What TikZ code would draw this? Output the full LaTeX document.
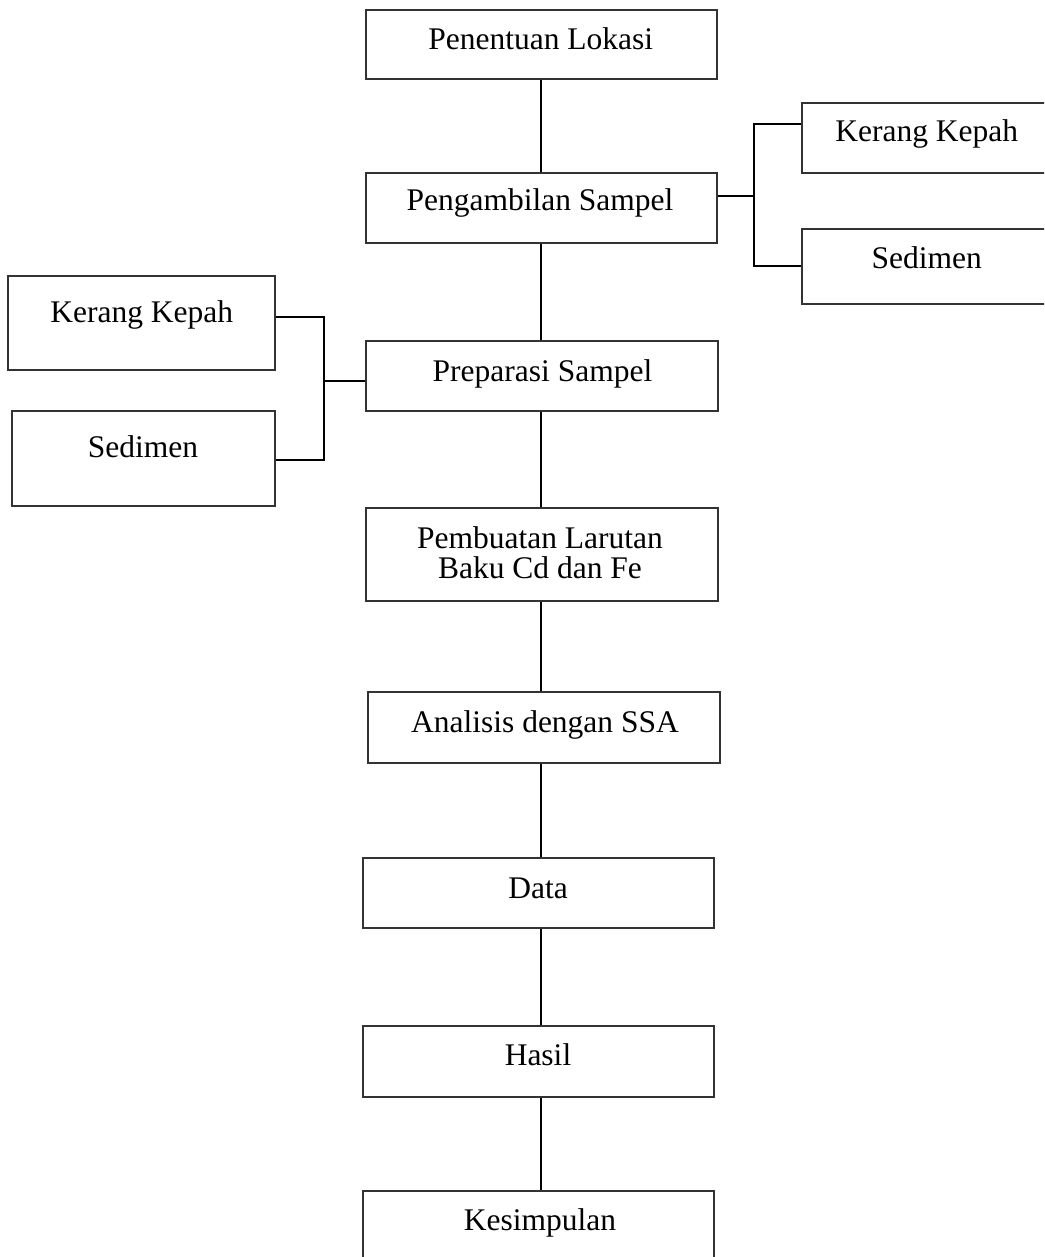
\documentclass[tikz,border=0pt]{standalone}
\usepackage{fontspec}
\setmainfont{Liberation Serif}
\begin{document}
\begin{tikzpicture}[x=1pt,y=-1pt,
  box/.style={draw=black!80,line width=1.4pt,rectangle,inner sep=0pt},
  lbl/.style={inner sep=0pt,anchor=base,font=\fontsize{31.5}{30}\selectfont},
  conn/.style={draw=black,line width=2pt}]
\useasboundingbox (0,0) rectangle (1044,1257);
\clip (0,0) rectangle (1044,1257);
\coordinate (spine) at (540.5,0);
% main column boxes
\node[box,minimum width=351pt,minimum height=69pt] (pen) at (541.5,44.5) {};
\node[box,minimum width=351pt,minimum height=70pt] (amb) at (541.5,208) {};
\node[box,minimum width=352pt,minimum height=70pt] (prep) at (542,376) {};
\node[box,minimum width=352pt,minimum height=93pt] (pemb) at (542,554.5) {};
\node[box,minimum width=352pt,minimum height=71pt] (ana) at (544,727.5) {};
\node[box,minimum width=351pt,minimum height=70pt] (data) at (538.5,893) {};
\node[box,minimum width=351pt,minimum height=71pt] (hasil) at (538.5,1061.5) {};
\node[box,minimum width=351pt,minimum height=89pt] (kes) at (538.5,1235.5) {};
% side boxes
\node[box,minimum width=258pt,minimum height=70pt] (kkR) at (931,138) {};
\node[box,minimum width=258pt,minimum height=75pt] (sdR) at (931,266.5) {};
\node[box,minimum width=267pt,minimum height=94pt] (kkL) at (141.5,323) {};
\node[box,minimum width=263pt,minimum height=95pt] (sdL) at (143.5,458.5) {};
% labels
\node[lbl] (tpen) at (540.7,50) {Penentuan Lokasi};
\node[lbl] (tamb) at (540,211) {Pengambilan Sampel};
\node[lbl] (tprep) at (542.5,381) {Preparasi Sampel};
\node[lbl,anchor=center,align=center] (tpemb) at (540,553) {Pembuatan Larutan\\Baku Cd dan Fe};
\node[lbl] (tana) at (545,732) {Analisis dengan SSA};
\node[lbl] (tdata) at (538,898) {Data};
\node[lbl] (thasil) at (538,1065) {Hasil};
\node[lbl] (tkes) at (540,1230) {Kesimpulan};
\node[lbl] (tkkR) at (926.7,142) {Kerang Kepah};
\node[lbl] (tsdR) at (926.7,268) {Sedimen};
\node[lbl] (tkkL) at (141.7,322) {Kerang Kepah};
\node[lbl] (tsdL) at (143,457) {Sedimen};
% vertical connectors
\draw[conn] (spine |- pen.south) -- (spine |- amb.north);
\draw[conn] (spine |- amb.south) -- (spine |- prep.north);
\draw[conn] (spine |- prep.south) -- (spine |- pemb.north);
\draw[conn] (spine |- pemb.south) -- (spine |- ana.north);
\draw[conn] (spine |- ana.south) -- (spine |- data.north);
\draw[conn] (spine |- data.south) -- (spine |- hasil.north);
\draw[conn] (spine |- hasil.south) -- (spine |- kes.north);
% right bracket
\coordinate (rb) at (754,196);
\coordinate (rbt) at (754,124);
\coordinate (rbb) at (754,266);
\draw[conn] (rb -| amb.east) -- (rb);
\draw[conn] (rbt -| kkR.west) -- (rbt) -- (rbb) -- (rbb -| sdR.west);
% left bracket
\coordinate (lb) at (324,381);
\coordinate (lbt) at (324,317);
\coordinate (lbb) at (324,460);
\draw[conn] (lb -| prep.west) -- (lb);
\draw[conn] (lbt -| kkL.east) -- (lbt) -- (lbb) -- (lbb -| sdL.east);
\end{tikzpicture}
\end{document}
